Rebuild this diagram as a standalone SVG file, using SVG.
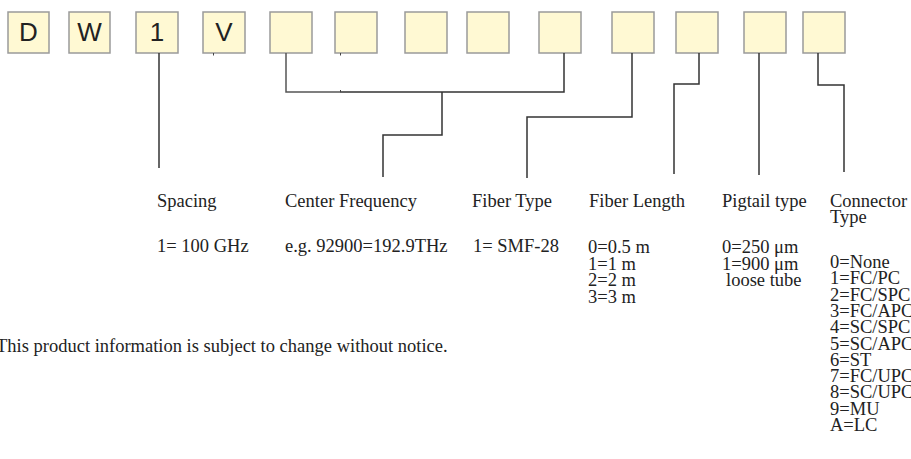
<svg xmlns="http://www.w3.org/2000/svg" width="911" height="459" viewBox="0 0 911 459">
<style>
.box{fill:#fff9d3;stroke:#9a9a9a;stroke-width:1.5}
.code{font-family:"Liberation Sans",Arial,sans-serif;font-size:26px;fill:#222;text-anchor:middle}
.lbl{font-family:"Liberation Serif","Times New Roman",serif;font-size:18.5px;fill:#222}
.wire{fill:none;stroke:#333;stroke-width:1.5}
.tick{fill:none;stroke:#444;stroke-width:1}
</style>
<rect width="911" height="459" fill="#fff"/>
<g id="node-d"><rect class="box" x="8" y="12" width="41" height="41"/><text class="code" x="28.5" y="41">D</text></g>
<g id="node-w"><rect class="box" x="69" y="12" width="41" height="41"/><text class="code" x="89.5" y="41">W</text></g>
<g id="node-1"><rect class="box" x="136" y="12" width="42" height="41"/><text class="code" x="157" y="41">1</text></g>
<g id="node-v"><rect class="box" x="203" y="12" width="42" height="41"/><text class="code" x="224" y="41">V</text></g>
<g id="node-5"><rect class="box" x="270" y="12" width="42" height="41"/></g>
<g id="node-6"><rect class="box" x="335" y="12" width="42" height="41"/></g>
<g id="node-7"><rect class="box" x="405" y="12" width="42" height="41"/></g>
<g id="node-8"><rect class="box" x="467" y="12" width="42" height="41"/></g>
<g id="node-9"><rect class="box" x="539" y="12" width="42" height="41"/></g>
<g id="node-10"><rect class="box" x="612" y="12" width="42" height="41"/></g>
<g id="node-11"><rect class="box" x="676" y="12" width="42" height="41"/></g>
<g id="node-12"><rect class="box" x="744" y="12" width="42" height="41"/></g>
<g id="node-13"><rect class="box" x="803" y="12" width="42" height="41"/></g>
<g id="connectors">
<path class="wire" d="M159 53V168"/>
<path class="wire" d="M286 53V92H340" style="stroke:#555"/>
<path class="wire" d="M340 92H564V53"/>
<path class="wire" d="M442 92V135H383V177"/>
<path class="wire" d="M632 53V117H527V178"/>
<path class="wire" d="M699 53V84H674V174"/>
<path class="wire" d="M759 53V175"/>
<path class="wire" d="M818 53V85H844V172"/>
<path class="tick" d="M213.5 53V55.5M340.5 53V55.5M340.5 90V92"/>
</g>
<g id="labels" class="lbl">
<text x="157" y="207">Spacing</text>
<text x="157" y="252">1= 100 GHz</text>
<text x="285" y="207">Center Frequency</text>
<text x="285" y="252">e.g. 92900=192.9THz</text>
<text x="472" y="207">Fiber Type</text>
<text x="473" y="252">1= SMF-28</text>
<text x="589" y="207">Fiber Length</text>
<text x="588" y="253">0=0.5 m</text>
<text x="588" y="269.7">1=1 m</text>
<text x="588" y="286.4">2=2 m</text>
<text x="588" y="303.1">3=3 m</text>
<text x="722" y="207">Pigtail type</text>
<text x="722" y="253">0=250 μm</text>
<text x="722" y="269.7">1=900 μm</text>
<text x="726" y="286.4">loose tube</text>
<text x="830" y="207">Connector</text>
<text x="830" y="223">Type</text>
<text x="830" y="268">0=None</text>
<text x="830" y="284.3">1=FC/PC</text>
<text x="830" y="300.6">2=FC/SPC</text>
<text x="830" y="316.9">3=FC/APC</text>
<text x="830" y="333.2">4=SC/SPC</text>
<text x="830" y="349.5">5=SC/APC</text>
<text x="830" y="365.8">6=ST</text>
<text x="830" y="382.1">7=FC/UPC</text>
<text x="830" y="398.4">8=SC/UPC</text>
<text x="830" y="414.7">9=MU</text>
<text x="830" y="431">A=LC</text>
<text x="-4" y="352">This product information is subject to change without notice.</text>
</g>
</svg>
